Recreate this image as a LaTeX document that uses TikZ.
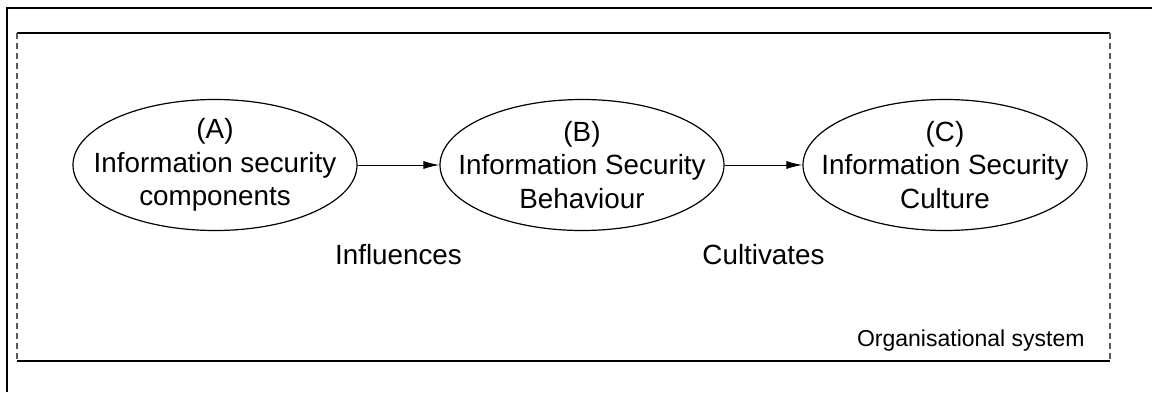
\documentclass[tikz,border=0pt]{standalone}
\usepackage{fontspec}
\setmainfont{Liberation Sans}
\usetikzlibrary{shapes.geometric,arrows.meta}

\begin{document}
\begin{tikzpicture}[x=0.5pt, y=-0.5pt,
    blob/.style={ellipse, draw, line width=0.6pt, minimum width=142pt, minimum height=65.5pt, inner sep=0pt},
    txt/.style={align=center, font=\fontsize{13.9}{16.8}\selectfont, inner sep=0pt},
    flow/.style={line width=0.5pt, -{Latex[length=8pt,width=4pt]}},
    rel/.style={below=36pt, font=\fontsize{13.9}{16.8}\selectfont}]
    \useasboundingbox (0,0) rectangle (1152,392);
	% frame of the figure
    \draw[line width=1.2pt] (7,392) -- (7,8) -- (1152,8);
    % organisational system
    \coordinate (sysNW) at (17,33);
    \coordinate (sysSE) at (1110,361);
    \draw[line width=1pt] (sysNW) -- (sysNW -| sysSE);
    \draw[line width=1pt] (sysNW |- sysSE) -- (sysSE);
    \draw[gray!70!black, densely dashed, line width=0.6pt] (sysNW) -- (sysNW |- sysSE);
    \draw[gray!70!black, densely dashed, line width=0.6pt] (sysNW -| sysSE) -- (sysSE);
    \node[anchor=base east, font=\fontsize{11.5}{13.8}\selectfont, inner sep=0pt] (org) at (1085,346) {Organisational system};
    \node[blob, label={[txt]center:{(A)\\Information security\\components}}] (a) at (215,165) {};
    \node[blob, label={[txt]center:{(B)\\Information Security\\Behaviour}}] (b) at (582,165) {};
    \node[blob, label={[txt]center:{(C)\\Information Security\\Culture}}] (c) at (945,165) {};
    \draw[flow] (a) -- node[rel] {Influences} (b);
    \draw[flow] (b) -- node[rel] {Cultivates} (c);
\end{tikzpicture}
\end{document}
